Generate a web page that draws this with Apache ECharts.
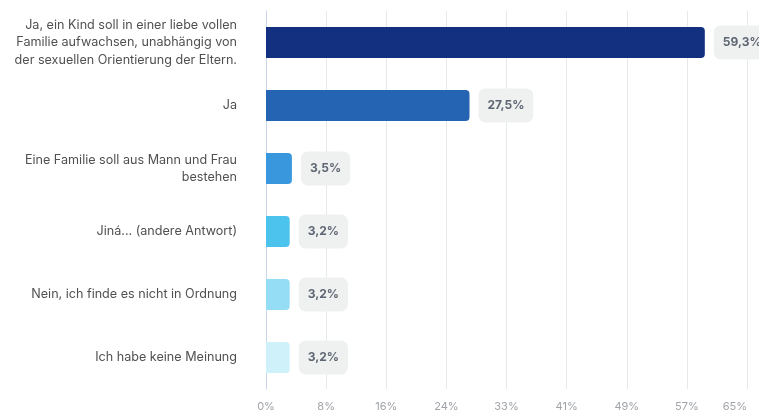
<!doctype html>
<html lang="de">
  <head>
    <meta charset="utf-8">
    <title>Umfrage</title>
    <script src="https://cdn.jsdelivr.net/npm/echarts@6/dist/echarts.min.js"></script>
    <style>
      html, body { margin: 0; padding: 0; background: #fff; }
      #chart { width: 759px; height: 412px; }
    </style>
  </head>
  <body>
    <div id="chart"></div>
    <script>
    // answers, top to bottom
    var categories = [
      'Ja, ein Kind soll in einer liebe vollen\nFamilie aufwachsen, unabhängig von\nder sexuellen Orientierung der Eltern.',
      'Ja',
      'Eine Familie soll aus Mann und Frau\nbestehen',
      'Jiná... (andere Antwort)',
      'Nein, ich finde es nicht in Ordnung',
      'Ich habe keine Meinung'
    ];
    var values = [59.3, 27.5, 3.5, 3.2, 3.2, 3.2];
    var colors = ['#12307f', '#2564b3', '#3997dd', '#4cc3ed', '#94ddf4', '#cff1f9'];
    var axisMax = 65;

    var chart = echarts.init(document.getElementById('chart'), null, { renderer: 'canvas' });

    var option = {
      animation: false,
      textStyle: { fontFamily: 'Inter' },
      grid: { left: 266, right: 12, top: 11, bottom: 22, containLabel: false },
      xAxis: {
        type: 'value',
        min: 0,
        max: axisMax,
        interval: axisMax / 8,
        axisLine: { show: false },
        axisTick: { show: false },
        splitLine: { lineStyle: { color: '#e6e8ec', width: 1 } },
        axisLabel: {
          color: '#a0a3a8',
          fontSize: 11,
          margin: 12,
          alignMaxLabel: 'right',
          formatter: function (v) { return Math.round(v) + '%'; }
        }
      },
      yAxis: {
        type: 'category',
        inverse: true,
        data: categories,
        axisLine: { show: true, lineStyle: { color: '#cbd5ea' } },
        axisTick: { show: false },
        axisLabel: {
          color: '#505050',
          fontSize: 12.6,
          lineHeight: 17.5,
          margin: 29,
          align: 'right'
        }
      },
      series: [
        {
          type: 'bar',
          barWidth: 31,
          data: values.map(function (v, i) {
            return { value: v, itemStyle: { color: colors[i] } };
          }),
          itemStyle: { borderRadius: [0, 4, 4, 0] },
          label: {
            show: true,
            position: 'right',
            distance: 9,
            formatter: function (p) { return String(p.value).replace('.', ',') + '%'; },
            color: '#5f6673',
            fontWeight: 'bold',
            fontSize: 12,
            backgroundColor: '#eff1f1',
            borderRadius: 7,
            padding: [11, 9, 11, 9]
          }
        }
      ]
    };

    chart.setOption(option);
    </script>
  </body>
</html>
